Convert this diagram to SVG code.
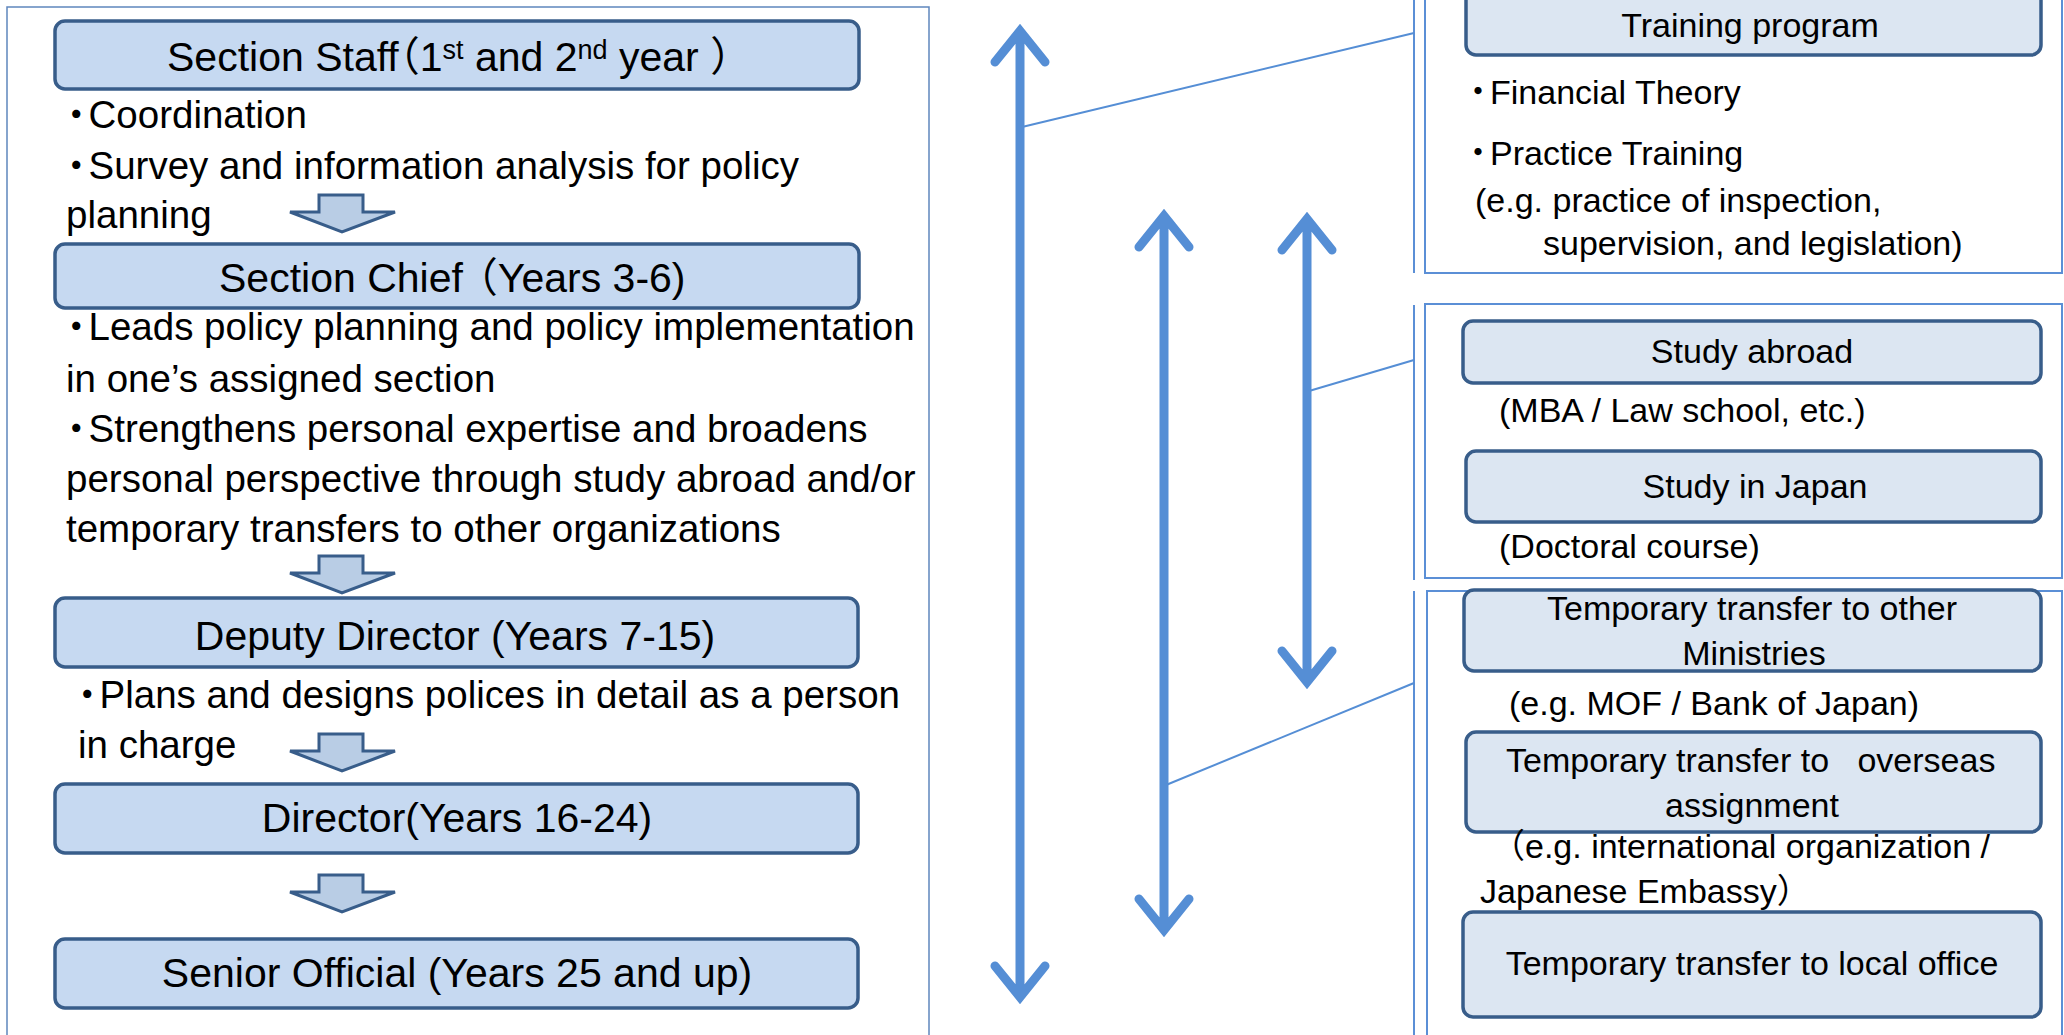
<svg xmlns="http://www.w3.org/2000/svg" width="2064" height="1035" viewBox="0 0 2064 1035">
<style>
text{font-family:"Liberation Sans","Noto Sans CJK JP",sans-serif;fill:#000}
.ttl{font-size:41px}
.body{font-size:38.5px}
.rt{font-size:34px}
.mid{text-anchor:middle}
.sup{font-size:27px}
.b{letter-spacing:-7px}
.rb{letter-spacing:-5px}
.boxL{fill:#c6d9f1;stroke:#385d8a;stroke-width:3.5}
.boxR{fill:#dce6f2;stroke:#385d8a;stroke-width:3.5}
.panel{fill:none;stroke:#5b8fd6;stroke-width:2}
.outer{fill:none;stroke:#5f86bd;stroke-width:1.5}
.blk{fill:#b9cde5;stroke:#385d8a;stroke-width:3;stroke-linejoin:miter}
.arr{fill:none;stroke:#558ed5;stroke-width:9;stroke-linecap:round;stroke-linejoin:miter}
.ln{fill:none;stroke:#558ed5;stroke-width:2}
</style>
<defs>
<path id="blockArrow" d="M319,195 H363 V212 H395 L342,232 L290,212 H319 Z"/>
</defs>

<g id="left-panel">
<rect class="outer" x="7" y="7" width="922" height="1040"/>
</g>

<g id="section-staff">
<rect class="boxL" x="55" y="21" width="804" height="68" rx="10"/>
<text class="ttl" x="167" y="71">Section Staff<tspan dx="-20">（</tspan>1<tspan class="sup" dy="-12">st</tspan><tspan dy="12"> and 2</tspan><tspan class="sup" dy="-12">nd</tspan><tspan dy="12"> year ）</tspan></text>
<text class="body" x="57" y="128"><tspan class="b">・</tspan>Coordination</text>
<text class="body" x="57" y="179"><tspan class="b">・</tspan>Survey and information analysis for policy</text>
<text class="body" x="66" y="228">planning</text>
</g>

<g id="section-chief">
<rect class="boxL" x="55" y="244" width="804" height="64" rx="10"/>
<text class="ttl" x="219" y="292">Section Chief<tspan dx="-6">（</tspan>Years 3-6)</text>
<text class="body" x="57" y="340"><tspan class="b">・</tspan>Leads policy planning and policy implementation</text>
<text class="body" x="66" y="392">in one’s assigned section</text>
<text class="body" x="57" y="442"><tspan class="b">・</tspan>Strengthens personal expertise and broadens</text>
<text class="body" x="66" y="492">personal perspective through study abroad and/or</text>
<text class="body" x="66" y="542">temporary transfers to other organizations</text>
</g>

<g id="deputy-director">
<rect class="boxL" x="55" y="598" width="803" height="69" rx="10"/>
<text class="ttl mid" x="455" y="650">Deputy Director (Years 7-15)</text>
<text class="body" x="68" y="708"><tspan class="b">・</tspan>Plans and designs polices in detail as a person</text>
<text class="body" x="78" y="758">in charge</text>
</g>

<g id="director">
<rect class="boxL" x="55" y="784" width="803" height="69" rx="10"/>
<text class="ttl mid" x="457" y="832">Director(Years 16-24)</text>
</g>

<g id="senior-official">
<rect class="boxL" x="55" y="939" width="803" height="69" rx="10"/>
<text class="ttl mid" x="457" y="987">Senior Official (Years 25 and up)</text>
</g>

<g id="promotion-arrows">
<use href="#blockArrow" class="blk"/>
<use href="#blockArrow" class="blk" transform="translate(0,361)"/>
<use href="#blockArrow" class="blk" transform="translate(0,539)"/>
<use href="#blockArrow" class="blk" transform="translate(0,680)"/>
</g>

<g id="training-panel">
<line class="panel" x1="1414" y1="0" x2="1414" y2="273"/>
<rect class="panel" x="1425" y="-5" width="637" height="278"/>
<rect class="boxR" x="1466" y="-10" width="575" height="65" rx="10"/>
<text class="rt mid" x="1750" y="37">Training program</text>
<text class="rt" x="1461" y="104"><tspan class="rb">・</tspan>Financial Theory</text>
<text class="rt" x="1461" y="165"><tspan class="rb">・</tspan>Practice Training</text>
<text class="rt" x="1475" y="212">(e.g. practice of inspection,</text>
<text class="rt" x="1543" y="255">supervision, and legislation)</text>
</g>

<g id="study-panel">
<line class="panel" x1="1414" y1="305" x2="1414" y2="580"/>
<rect class="panel" x="1425" y="304" width="637" height="274"/>
<rect class="boxR" x="1463" y="321" width="578" height="62" rx="10"/>
<text class="rt mid" x="1752" y="363">Study abroad</text>
<text class="rt" x="1499" y="422">(MBA / Law school, etc.)</text>
<rect class="boxR" x="1466" y="451" width="575" height="71" rx="10"/>
<text class="rt mid" x="1755" y="498">Study in Japan</text>
<text class="rt" x="1499" y="558">(Doctoral course)</text>
</g>

<g id="transfer-panel">
<line class="panel" x1="1414" y1="591" x2="1414" y2="1040"/>
<rect class="panel" x="1427" y="591" width="635" height="460"/>
<rect class="boxR" x="1464" y="590" width="577" height="81" rx="10"/>
<text class="rt mid" x="1752" y="620">Temporary transfer to other</text>
<text class="rt mid" x="1754" y="665">Ministries</text>
<text class="rt" x="1509" y="715">(e.g. MOF / Bank of Japan)</text>
<rect class="boxR" x="1466" y="732" width="575" height="100" rx="10"/>
<text class="rt" x="1506" y="772" xml:space="preserve">Temporary transfer to   overseas</text>
<text class="rt mid" x="1752" y="817">assignment</text>
<text class="rt" x="1491" y="858">（e.g. international organization /</text>
<text class="rt" x="1480" y="903">Japanese Embassy）</text>
<rect class="boxR" x="1463" y="912" width="578" height="105" rx="10"/>
<text class="rt mid" x="1752" y="975">Temporary transfer to local office</text>
</g>

<g id="connectors">
<path class="arr" d="M1020,31 V997 M995,62 L1020,31 L1045,62 M995,966 L1020,997 L1045,966"/>
<path class="arr" d="M1164,216 V930 M1139,247 L1164,216 L1189,247 M1139,899 L1164,930 L1189,899"/>
<path class="arr" d="M1307,219 V682 M1282,250 L1307,219 L1332,250 M1282,651 L1307,682 L1332,651"/>
<line class="ln" x1="1022" y1="127" x2="1414" y2="33"/>
<line class="ln" x1="1309" y1="391" x2="1414" y2="360"/>
<line class="ln" x1="1166" y1="785" x2="1414" y2="683"/>
</g>
</svg>
